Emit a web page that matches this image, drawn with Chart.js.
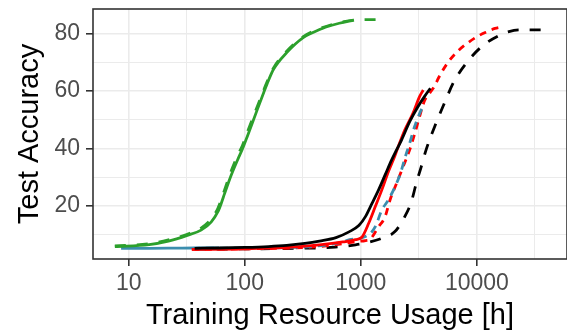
<!DOCTYPE html>
<html>
<head>
<meta charset="utf-8">
<script src="https://cdn.jsdelivr.net/npm/chart.js@4.4.1/dist/chart.umd.min.js"></script>
<style>
  html, body { margin: 0; padding: 0; background: #fff; }
  #wrap { width: 567px; height: 331px; }
</style>
</head>
<body>
<div id="wrap"><canvas id="acc" width="567" height="331"></canvas></div>
<script>
// values (x in hours, y in %)
const greenSolidX = [7.6, 15, 22, 32, 42, 51.5, 58.7, 62.7, 66.9, 76.1, 86.7, 95.5, 105, 128, 146, 156, 177, 230, 319, 441, 502, 652, 873];
const greenSolidY = [5.9, 6.6, 7.8, 9.8, 11.6, 14.5, 18, 20.9, 24.2, 30.5, 36, 39.8, 44.1, 53.4, 59.5, 62.5, 67.5, 73.3, 78.5, 81.3, 82.2, 83.5, 84.6];
const greenDashX = [7.6, 15, 22, 32, 42, 51.5, 58.7, 66.9, 76.1, 86.7, 95.5, 105, 128, 156, 177, 230, 319, 441, 652, 873, 1380];
const greenDashY = [6.1, 6.9, 8.2, 10.2, 12.3, 15.5, 19.2, 25.5, 32, 37.5, 41, 45.5, 54.5, 63.2, 68, 73.8, 78.8, 81.6, 83.7, 84.6, 84.8];
const blackSolidX = [37, 60, 100, 160, 230, 330, 440, 611, 791, 961, 1096, 1249, 1423, 1620, 1845, 2034, 2243, 2637, 3105, 3532, 3972];
const blackSolidY = [5.3, 5.4, 5.6, 5.9, 6.3, 7.0, 7.8, 9.0, 11.0, 13.2, 16.3, 20.9, 25.6, 30.8, 36, 39.5, 42.9, 49.3, 54.5, 58, 60.9];
const redSolidX = [35, 100, 230, 440, 700, 900, 1027, 1169, 1333, 1518, 1727, 1968, 2074, 2392, 2814, 3208, 3450];
const redSolidY = [4.9, 5.1, 5.6, 6.5, 7.5, 8.3, 9.3, 14, 19.8, 25.6, 31.9, 37.5, 40, 46.4, 52.2, 58, 60.3];
const tealDashX = [35, 100, 250, 400, 700, 800, 1000, 1208, 1333, 1518, 1727, 2034, 2243, 2392, 2637, 2909, 3315, 3485];
const tealDashY = [5.3, 5.4, 5.6, 6.0, 7.5, 8.3, 8.8, 10.5, 12.8, 18.6, 22.1, 27.9, 32.5, 36.5, 41.8, 47.6, 53.4, 55];
const redDashX = [35, 100, 250, 400, 600, 900, 1100, 1208, 1423, 1620, 1786, 2034, 2313, 2637, 2909, 3208, 3532, 3972, 4295, 4734, 5570, 6770, 8230, 10000, 12170, 14330, 16840];
const redDashY = [4.9, 5.1, 5.4, 5.8, 6.5, 7.6, 8.0, 8.5, 12.8, 16.3, 22.1, 27.9, 33.6, 39.5, 45, 51, 56.5, 59.5, 61.5, 64.9, 69.6, 73.6, 76.5, 78.8, 80.5, 81.7, 82.3];
const blackDashX = [37, 100, 300, 600, 900, 1200, 1518, 1968, 2392, 2727, 3006, 3315, 3652, 4439, 5220, 6345, 8230, 11400, 15790, 18560, 23350, 39700];
const blackDashY = [5.0, 5.1, 5.3, 5.7, 6.5, 7.5, 8.8, 11.1, 16.3, 21.5, 27.9, 33.6, 39.5, 48.7, 55.5, 63.2, 70, 75.9, 79.4, 80.5, 81.2, 81.2];
const tealSolidX = [8.6, 15, 25, 37, 60];
const tealSolidY = [5.3, 5.3, 5.35, 5.4, 5.4];

// axis ticks and grid
const xMajor = [10, 100, 1000, 10000];
const xTickLabels = ['10', '100', '1000', '10000'];
const xGrid = [10, 31.62, 100, 316.2, 1000, 3162, 10000, 31623];
const yMajor = [20, 40, 60, 80];
const yTickLabels = ['20', '40', '60', '80'];
const yGrid = [10, 20, 30, 40, 50, 60, 70, 80];

const FONT = '"Liberation Sans", Arial, Helvetica, sans-serif';

function pts(xs, ys) {
    return xs.map((x, i) => ({ x: x, y: ys[i] }));
}

function series(xs, ys, color, dash) {
    return {
        data: pts(xs, ys),
        showLine: true,
        borderColor: color,
        borderWidth: 2.8,
        borderDash: dash,
        borderCapStyle: 'butt',
        pointRadius: 0,
        fill: false,
        cubicInterpolationMode: 'monotone'
    };
}

// ggplot style panel frame
const panelBorder = {
    id: 'panelBorder',
    afterDraw(chart) {
        const { ctx, chartArea: a } = chart;
        ctx.save();
        ctx.strokeStyle = '#333333';
        ctx.lineWidth = 1.6;
        ctx.strokeRect(a.left, a.top, a.right - a.left, a.bottom - a.top);
        ctx.restore();
    }
};

function gridOpts(major) {
    return {
        color: '#EBEBEB',
        lineWidth: c => (c.tick && major.includes(c.tick.value)) ? 1.6 : 1,
        tickColor: c => (c.tick && major.includes(c.tick.value)) ? '#333333' : 'rgba(0,0,0,0)',
        tickLength: 7,
        tickWidth: 1.6
    };
}

const ctx = document.getElementById('acc').getContext('2d');
new Chart(ctx, {
    type: 'scatter',
    data: {
        datasets: [
            series(greenSolidX, greenSolidY, '#2CA02C', []),
            series(greenDashX, greenDashY, '#2CA02C', [11, 11]),
            series(blackSolidX, blackSolidY, '#000000', []),
            series(redSolidX, redSolidY, '#FF0000', []),
            series(tealDashX, tealDashY, '#3B8EAE', [8, 6]),
            series(redDashX, redDashY, '#FF0000', [7, 6]),
            series(blackDashX, blackDashY, '#000000', [11, 11]),
            series(tealSolidX, tealSolidY, '#3B8EAE', [])
        ]
    },
    options: {
        responsive: false,
        animation: false,
        devicePixelRatio: 1,
        events: [],
        layout: { padding: { top: 9, right: -8, bottom: 0, left: 0 } },
        plugins: { legend: { display: false }, tooltip: { enabled: false } },
        scales: {
            x: {
                type: 'logarithmic',
                min: 4.925,
                max: 59800,
                afterBuildTicks: s => { s.ticks = xGrid.map(v => ({ value: v })); },
                afterFit: s => { s.height = 72; s.paddingLeft = 0; s.paddingRight = 0; },
                ticks: {
                    autoSkip: false,
                    maxRotation: 0,
                    minRotation: 0,
                    padding: 4,
                    color: '#4D4D4D',
                    font: { family: FONT, size: 23 },
                    callback: v => { const i = xMajor.indexOf(v); return i >= 0 ? xTickLabels[i] : ''; }
                },
                grid: gridOpts(xMajor),
                border: { display: false },
                title: {
                    display: true,
                    text: 'Training Resource Usage [h]',
                    color: '#000000',
                    font: { family: FONT, size: 29, lineHeight: 1 },
                    padding: { top: 0, bottom: 0.5 }
                }
            },
            y: {
                type: 'linear',
                min: 1.58,
                max: 88.45,
                afterBuildTicks: s => { s.ticks = yGrid.map(v => ({ value: v })); },
                afterFit: s => { s.width = 93; s.paddingTop = 0; s.paddingBottom = 0; },
                ticks: {
                    autoSkip: false,
                    padding: 6,
                    color: '#4D4D4D',
                    font: { family: FONT, size: 23 },
                    callback: v => { const i = yMajor.indexOf(v); return i >= 0 ? yTickLabels[i] : ''; }
                },
                grid: gridOpts(yMajor),
                border: { display: false },
                title: {
                    display: true,
                    text: 'Test Accuracy',
                    color: '#000000',
                    font: { family: FONT, size: 29, lineHeight: 1 },
                    padding: { top: 15, bottom: 0 }
                }
            }
        }
    },
    plugins: [panelBorder]
});
</script>
</body>
</html>
